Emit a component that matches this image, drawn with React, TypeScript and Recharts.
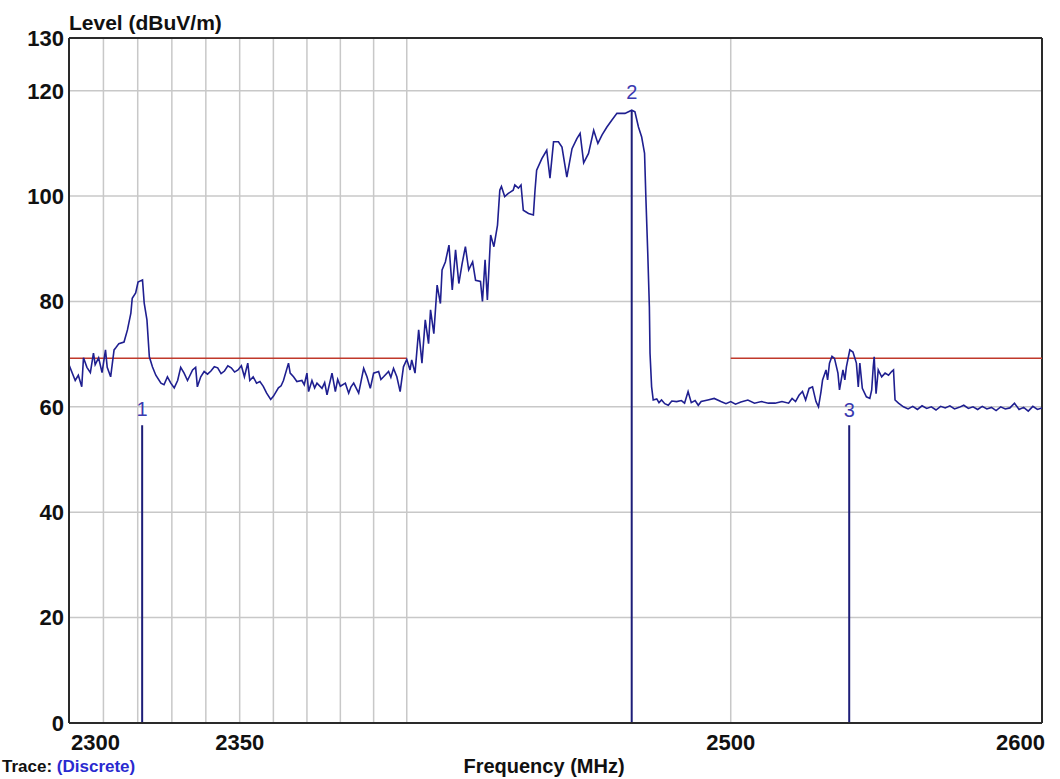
import React from "react";
import {
  LineChart,
  Line,
  XAxis,
  YAxis,
  CartesianGrid,
  ReferenceLine,
  ReferenceDot,
} from "recharts";

type Pt = [number, number];

// trace readings, [frequency MHz, level dBuV/m]
const lowBand: Pt[] = [
  [2300, 68], [2301.8, 65], [2302.7, 66], [2303.7, 63.8], [2304.2, 69.3],
  [2305.2, 67.5], [2306.2, 66.5], [2307.1, 70.2], [2307.6, 68], [2308.6, 69.3],
  [2309.6, 66.5], [2310.6, 70.8], [2311.1, 67.5], [2312.1, 65.7], [2313.1, 70.8],
  [2313.6, 71.2], [2314.5, 72], [2316, 72.3], [2317, 74.6], [2318, 77.8],
  [2318.4, 80.6], [2319.4, 81.6], [2320.1, 83.7], [2321.4, 84.1], [2321.9, 79.7],
  [2322.7, 76.5], [2323.4, 69.5], [2324.3, 67.6], [2325.3, 66], [2326.8, 64.5],
  [2327.7, 64.2], [2328.7, 65.7], [2329.7, 64.5], [2330.7, 63.6], [2331.7, 65],
  [2332.6, 67.5], [2333.6, 66.4], [2334.6, 65], [2336.1, 67], [2337, 67.5],
  [2337.5, 63.8], [2338.5, 65.7], [2339.5, 66.7], [2340.5, 66.2], [2341.5, 66.8],
  [2342.5, 67.6], [2343.5, 67.4], [2344.5, 66.3], [2345.5, 66.8], [2346.5, 67.8],
  [2347.5, 67.4], [2348.5, 66.6], [2349.5, 67], [2350.5, 67.8], [2351.4, 65.7],
];

const midBand: Pt[] = [
  [2352.4, 68.3], [2353, 65], [2354, 65.7], [2355, 64.5], [2356, 64.8],
  [2357, 63.9], [2358, 62.6], [2359.2, 61.4], [2360, 62], [2361.5, 63.6],
  [2362.3, 64], [2363, 65], [2364.5, 68.3], [2365, 66.4], [2366, 65.7],
  [2367, 64.8], [2368.5, 65], [2369.2, 64.2], [2370, 66.4], [2370.5, 62.9],
  [2371.5, 65], [2372.3, 63.6], [2373, 64.5], [2374.5, 63.5], [2375.3, 64.6],
  [2376, 62.3], [2377.5, 66.4], [2378.5, 62.9], [2379.2, 65.2], [2380, 63.9],
  [2381.5, 64.5], [2382.5, 62.6], [2383.2, 63.8], [2384, 64.5], [2385.5, 62.6],
  [2386.2, 64.8], [2387, 67.3], [2388, 65.7], [2389, 63.5], [2390, 66.4],
  [2391.5, 66.7], [2392.2, 65.2], [2393, 65.7], [2394.5, 66.7], [2395.2, 65.6],
  [2396, 67.3], [2397, 65.7], [2398, 62.9], [2399, 67.6], [2400, 69],
  [2401, 67], [2401.5, 68.9], [2402.5, 66.4],
];

const riseBand: Pt[] = [
  [2403.6, 74.6], [2404.6, 68.3], [2405.6, 76.5], [2406.6, 72], [2407.2, 78.4],
  [2408.2, 73.9], [2409.2, 83.1], [2410.2, 79.6], [2410.7, 86], [2411.7, 87.5],
  [2412.8, 90.7], [2413.8, 82.2], [2414.8, 89.8], [2415.8, 83.4], [2416.8, 87.2],
  [2417.8, 90.4], [2418.8, 86], [2420, 87.5], [2420.9, 84], [2422.4, 83.8],
  [2423, 80], [2423.8, 87.9], [2424.5, 80.3], [2425.5, 92.6], [2426.5, 90.4],
  [2427.6, 94.5], [2428.3, 101.1], [2428.8, 101.8], [2429.8, 99.9], [2430.9, 100.5],
  [2432.4, 101.1], [2432.9, 102.1], [2434, 101.5], [2434.8, 102.1], [2435.5, 97.3],
  [2437.1, 96.7], [2438.6, 96.4], [2439.1, 101.1], [2439.6, 104.9], [2441.2, 107.1],
  [2442.7, 108.7], [2443.7, 103.4], [2444.8, 110.3], [2446.3, 110.3], [2447.4, 109.3],
  [2448.9, 103.6], [2450.5, 109], [2452, 110.9], [2453, 111.9], [2454.1, 106.3],
  [2455.6, 108.1], [2457.2, 112.5], [2458.5, 110], [2459.8, 111.6], [2461.3, 113.1],
  [2462.8, 114.4], [2464.4, 115.7], [2466.9, 115.7], [2469, 116.3], [2470, 116],
  [2471.1, 113.1], [2472.1, 111.2], [2473, 108.1], [2473.4, 99.9], [2474, 89.1],
  [2474.5, 79], [2474.7, 70.2], [2475.2, 63.8], [2475.7, 61.3],
];

const highBand: Pt[] = [
  [2476.8, 61.5], [2477.5, 60.8], [2478.3, 61.3], [2479.3, 60.6], [2480.4, 60.3],
  [2481.5, 61.1], [2483, 61], [2484.5, 61.2], [2485.5, 60.7], [2486.6, 62.9],
  [2487.6, 60.8], [2488.8, 61.2], [2489.8, 60.3], [2490.7, 61], [2492.8, 61.3],
  [2494.8, 61.6], [2496.9, 61], [2498.5, 60.6], [2500, 61], [2501.5, 60.5],
  [2503.2, 60.9], [2505.4, 61.3], [2507.5, 60.7], [2509.7, 61], [2511.9, 60.7],
  [2514, 60.7], [2516.2, 61], [2518.3, 60.7], [2519.4, 61.6], [2520.5, 61],
  [2521.6, 62.2], [2522.7, 62.9], [2523.7, 61.3], [2524.8, 63.5], [2525.9, 63.8],
  [2527, 61], [2527.8, 60], [2528.6, 62.9], [2529.1, 65.1], [2530.2, 67],
  [2530.7, 65.1], [2531.3, 68.3], [2532.1, 69.6], [2532.9, 69.2], [2534, 66.4],
  [2534.5, 63.2], [2535.6, 67], [2536.2, 65.1], [2536.7, 67.6], [2537.8, 70.8],
  [2538.8, 70.4], [2539.9, 68.3], [2540.5, 63.8], [2541, 68.3], [2541.8, 63.5],
  [2543.1, 61.9], [2544.2, 61.6], [2544.8, 63.2], [2545.3, 67.6], [2545.6, 69.5],
  [2546.2, 62.5], [2546.9, 67], [2548, 65.7], [2549.1, 66.4], [2550.2, 66],
  [2551.2, 66.7], [2551.8, 67], [2552.3, 61.3], [2553.4, 60.7], [2555, 60],
];

const topBand: Pt[] = [
  [2556.5, 59.6], [2558, 60.1], [2559.5, 59.5], [2561, 60.2], [2562.5, 59.7],
  [2564, 60], [2565.5, 59.4], [2567, 60.1], [2568.5, 59.8], [2570, 60.2],
  [2571.5, 59.6], [2573, 59.9], [2574.5, 60.3], [2576, 59.7], [2577.5, 60],
  [2579, 59.5], [2580.5, 60.1], [2582, 59.6], [2583.5, 59.9], [2585, 59.3],
  [2586.5, 60], [2588, 59.6], [2589.5, 59.8], [2591, 60.7], [2592.5, 59.5],
  [2594, 59.9], [2595.5, 59.2], [2597, 60.1], [2598.5, 59.5], [2600, 59.8],
];

// markers
const markerNames = ["1", "2", "3"];
const markerFreq = [2321.3, 2469, 2537.6];
const markerTop = [56.5, 116.3, 56.5];
const markerLabelLevel = [59.6, 119.7, 59.4];

// limit line
const limitLevel = 69.2;
const limitRanges: Pt[] = [
  [2300, 2400],
  [2500, 2600],
];

const xTicks = [2300, 2310, 2320, 2330, 2340, 2350, 2360, 2370, 2380, 2390, 2400, 2500, 2600];
const xLabels = [2300, 2350, 2500, 2600];
const yTicks = [0, 20, 40, 60, 80, 100, 120, 130];

const trace = [...lowBand, ...midBand, ...riseBand, ...highBand, ...topBand].map(
  ([f, v]) => ({ f, v })
);

const FONT = '"Liberation Sans", Arial, sans-serif';
const FRAME = "#2a2a2a";
const GRID = "#c8c8c8";

const XTick = (props: any) => {
  const { x, y, payload } = props;
  const v = payload.value;
  if (!xLabels.includes(v)) return <g />;
  let anchor = "middle";
  let dx = 0;
  if (v === 2300) {
    anchor = "start";
    dx = 2;
  } else if (v === 2600) {
    anchor = "end";
    dx = 3;
  }
  return (
    <text
      x={x + dx}
      y={y + 27}
      textAnchor={anchor}
      fill="#111"
      fontSize={22}
      fontWeight="bold"
      fontFamily={FONT}
    >
      {v}
    </text>
  );
};

export default function App() {
  return (
    <div
      style={{
        position: "absolute",
        left: 0,
        top: 0,
        width: 1060,
        height: 779,
        overflow: "hidden",
        background: "#fff",
        fontFamily: FONT,
      }}
    >
      <LineChart
        width={1060}
        height={779}
        data={trace}
        margin={{ top: 38, right: 18, left: 0, bottom: 0 }}
      >
        <CartesianGrid stroke={GRID} strokeWidth={1.5} />
        <XAxis
          dataKey="f"
          type="number"
          scale="log"
          domain={[2300, 2600]}
          allowDataOverflow
          ticks={xTicks}
          interval={0}
          height={56}
          tickSize={0}
          tickMargin={0}
          tickLine={false}
          axisLine={{ stroke: FRAME, strokeWidth: 2 }}
          tick={<XTick />}
        />
        <YAxis
          type="number"
          domain={[0, 130]}
          ticks={yTicks}
          interval={0}
          width={69}
          tickSize={0}
          tickMargin={5}
          tickLine={false}
          axisLine={{ stroke: FRAME, strokeWidth: 2 }}
          tick={{ fill: "#111", fontSize: 22, fontWeight: "bold", fontFamily: FONT }}
        />
        <ReferenceLine y={130} stroke={FRAME} strokeWidth={2} />
        <ReferenceLine x={2600} stroke={FRAME} strokeWidth={2} />
        {limitRanges.map(([a, b], i) => (
          <ReferenceLine
            key={"lim" + i}
            segment={[
              { x: a, y: limitLevel },
              { x: b, y: limitLevel },
            ]}
            stroke="#c0392b"
            strokeWidth={1.5}
          />
        ))}
        {markerFreq.map((f, i) => (
          <ReferenceLine
            key={"mk" + i}
            segment={[
              { x: f, y: 0 },
              { x: f, y: markerTop[i] },
            ]}
            stroke="#1e1e78"
            strokeWidth={2}
          />
        ))}
        {markerFreq.map((f, i) => (
          <ReferenceDot
            key={"ml" + i}
            x={f}
            y={markerLabelLevel[i]}
            r={0}
            shape={(p: any) => (
              <text
                x={p.cx}
                y={p.cy}
                textAnchor="middle"
                dominantBaseline="central"
                fill="#3a3ab0"
                fontSize={20}
                fontFamily={FONT}
              >
                {markerNames[i]}
              </text>
            )}
          />
        ))}
        <Line
          type="linear"
          dataKey="v"
          stroke="#1f1f90"
          strokeWidth={1.6}
          dot={false}
          isAnimationActive={false}
        />
      </LineChart>
      <div
        style={{
          position: "absolute",
          left: 69,
          top: 12,
          fontSize: 21,
          lineHeight: "21px",
          fontWeight: "bold",
          color: "#111",
          whiteSpace: "nowrap",
        }}
      >
        Level (dBuV/m)
      </div>
      <div
        style={{
          position: "absolute",
          left: 544,
          top: 756,
          transform: "translateX(-50%)",
          fontSize: 20,
          lineHeight: "20px",
          fontWeight: "bold",
          color: "#111",
          whiteSpace: "nowrap",
        }}
      >
        Frequency (MHz)
      </div>
      <div
        style={{
          position: "absolute",
          left: 2,
          top: 758,
          fontSize: 17,
          lineHeight: "17px",
          fontWeight: "bold",
          color: "#111",
          whiteSpace: "nowrap",
        }}
      >
        Trace: <span style={{ color: "#2a2ad0" }}>(Discrete)</span>
      </div>
    </div>
  );
}
